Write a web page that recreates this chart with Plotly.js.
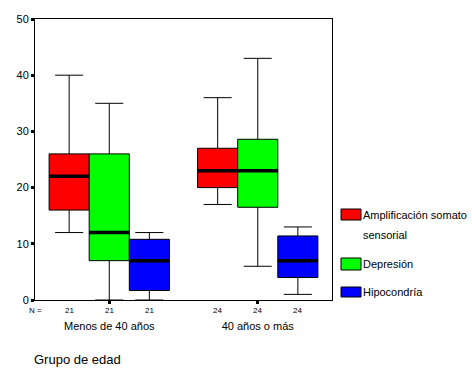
<!DOCTYPE html>
<html>
<head>
<meta charset="utf-8">
<script src="https://cdn.plot.ly/plotly-3.0.1.min.js"></script>
<style>html,body{margin:0;padding:0;background:#fff;}#chart{width:472px;height:377px;}</style>
</head>
<body>
<div id="chart"></div>
<script>
// ---- data ----
var groups = ["Menos de 40 años", "40 años o más"];
var seriesNames = ["Amplificación somato<br>sensorial", "Depresión", "Hipocondría"];
var seriesColors = ["#FF0000", "#00FF00", "#0000FF"];
var nCounts = [[21, 21, 21], [24, 24, 24]];

var ampLower  = [12, 17];
var ampQ1     = [16, 20];
var ampMedian = [22, 23];
var ampQ3     = [26, 27];
var ampUpper  = [40, 36];

var depLower  = [0, 6];
var depQ1     = [7, 16.5];
var depMedian = [12, 23];
var depQ3     = [26, 28.6];
var depUpper  = [35, 43];

var hipLower  = [0, 1];
var hipQ1     = [1.7, 4];
var hipMedian = [7, 7];
var hipQ3     = [10.8, 11.4];
var hipUpper  = [12, 13];

var stats = [
  {lower: ampLower, q1: ampQ1, median: ampMedian, q3: ampQ3, upper: ampUpper},
  {lower: depLower, q1: depQ1, median: depMedian, q3: depQ3, upper: depUpper},
  {lower: hipLower, q1: hipQ1, median: hipMedian, q3: hipQ3, upper: hipUpper}
];

// ---- layout constants ----
var boxgap = 0.19;
var nSeries = stats.length;
var slot = (1 - boxgap) / nSeries;
var font = "Arial, 'Liberation Sans', sans-serif";

var traces = stats.map(function (s, i) {
  return {
    type: "box",
    name: seriesNames[i],
    x: groups,
    q1: s.q1, median: s.median, q3: s.q3,
    lowerfence: s.lower, upperfence: s.upper,
    fillcolor: seriesColors[i],
    line: {color: "#000", width: 1},
    whiskerwidth: 0.7,
    boxpoints: false,
    hoverinfo: "skip",
    showlegend: false
  };
});

var shapes = [];
var annotations = [];

// thick median lines and N counts
stats.forEach(function (s, i) {
  groups.forEach(function (g, gi) {
    var c = gi + (i - (nSeries - 1) / 2) * slot;
    shapes.push({type: "line", xref: "x", yref: "y",
      x0: c - slot / 2, x1: c + slot / 2, y0: s.median[gi], y1: s.median[gi],
      line: {color: "#000", width: 3.5}});
    annotations.push({xref: "x", yref: "paper", x: c, y: 0, yshift: -10,
      yanchor: "middle",
      text: String(nCounts[gi][i]), showarrow: false,
      font: {family: font, size: 8, color: "#000"}});
  });
});

annotations.push({xref: "paper", yref: "paper", x: 0, y: 0, yshift: -10,
  yanchor: "middle", text: "N =", showarrow: false, xanchor: "center",
  font: {family: font, size: 8, color: "#000"}});

annotations.push({xref: "paper", yref: "paper", x: -0.01, y: 0, yshift: -59,
  yanchor: "middle", xanchor: "left", text: "Grupo de edad", showarrow: false,
  font: {family: font, size: 13, color: "#000"}});

// manual legend (pixel positions converted to paper fractions)
var legY = [215, 264, 292];
var legSq = [[209, 220], [258, 270], [287, 297]];
stats.forEach(function (s, i) {
  shapes.push({type: "rect", xref: "paper", yref: "paper",
    x0: (341 - 35) / 297, x1: (361 - 35) / 297,
    y0: (300 - legSq[i][1]) / 281, y1: (300 - legSq[i][0]) / 281,
    fillcolor: seriesColors[i], line: {color: "#000", width: 1}});
  seriesNames[i].split("<br>").forEach(function (line, li) {
    annotations.push({xref: "paper", yref: "paper",
      x: (361 - 35) / 297, y: (300 - legY[i] - li * 20) / 281,
      xanchor: "left", yanchor: "middle",
      text: line, align: "left", showarrow: false,
      font: {family: font, size: 11, color: "#000"}});
  });
});

var layout = {
  width: 472, height: 377,
  margin: {l: 35, r: 140, t: 19, b: 77},
  paper_bgcolor: "#fff", plot_bgcolor: "#fff",
  boxmode: "group", boxgap: boxgap, boxgroupgap: 0,
  showlegend: false,
  font: {family: font, size: 11, color: "#000"},
  xaxis: {
    type: "category", range: [-0.5, 1.5],
    showline: true, linecolor: "#000", linewidth: 1, mirror: true,
    ticks: "outside", ticklen: 3, tickwidth: 3, tickcolor: "#000",
    showgrid: false, zeroline: false,
    ticklabelstandoff: 13,
    tickfont: {family: font, size: 11, color: "#000"}
  },
  yaxis: {
    range: [0, 50], dtick: 10,
    showline: true, linecolor: "#000", linewidth: 1, mirror: true,
    ticks: "outside", ticklen: 3, tickwidth: 3, tickcolor: "#000",
    showgrid: false, zeroline: false,
    tickfont: {family: font, size: 11, color: "#000"}
  },
  shapes: shapes,
  annotations: annotations
};

Plotly.newPlot("chart", traces, layout, {displayModeBar: false, staticPlot: true});
</script>
</body>
</html>
